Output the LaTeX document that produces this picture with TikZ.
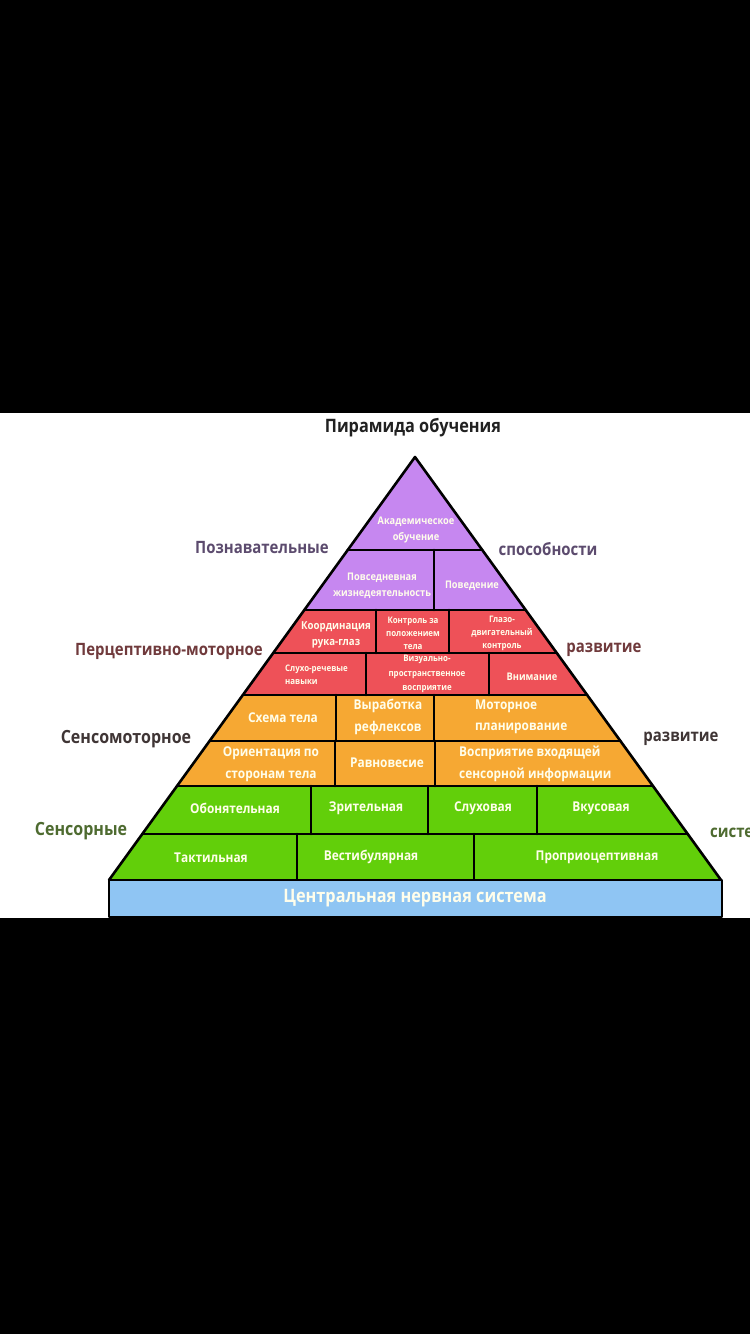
\documentclass[tikz,border=0pt]{standalone}
\usepackage{fontspec}
\newfontfamily\cf{Open Sans}[FakeStretch=0.88]
\newcommand\myfs[2]{\fontsize{#1}{#2}\selectfont}
\definecolor{pur}{HTML}{C687F0}
\definecolor{rd}{HTML}{EE5158}
\definecolor{org}{HTML}{F6A833}
\definecolor{grn}{HTML}{62CF0A}
\definecolor{blu}{HTML}{8FC5F3}
\definecolor{cogc}{HTML}{5C4B6E}
\definecolor{pmc}{HTML}{703A3C}
\definecolor{smc}{HTML}{3F3535}
\definecolor{senc}{HTML}{4E6B30}
\tikzset{
  edge/.style={line width=2.6pt, draw=black, line join=round, line cap=round},
  side/.style={inner sep=0, font={\cf\bfseries\myfs{17}{20}}},
  cell/.style={inner sep=0, align=center, text=white!92!yellow},
  small/.style={cell, font={\cf\bfseries\myfs{9}{13}}},
  mid/.style={cell, font={\cf\bfseries\myfs{10.5}{15.5}}},
  big/.style={cell, font={\cf\bfseries\myfs{13.5}{21.5}}}
}
\begin{document}
\begin{tikzpicture}[x=1pt,y=-1pt]
\useasboundingbox (0,0) rectangle (750,1334);
\clip (0,0) rectangle (750,1334);
\fill[black] (0,0) rectangle (750,1334);
\fill[white] (0,413) rectangle (750,918);
% edge points
\coordinate (A) at (415,457);
\coordinate (L550) at (347.7,550); \coordinate (R550) at (482.3,550);
\coordinate (L610) at (304.3,610); \coordinate (R610) at (525.7,610);
\coordinate (L653) at (273.2,653); \coordinate (R653) at (556.8,653);
\coordinate (L695) at (242.8,695); \coordinate (R695) at (587.2,695);
\coordinate (L741) at (209.6,741); \coordinate (R741) at (620.4,741);
\coordinate (L786) at (177.0,786); \coordinate (R786) at (653.0,786);
\coordinate (L834) at (142.3,834); \coordinate (R834) at (687.7,834);
\coordinate (L880) at (109,880); \coordinate (R880) at (721,880);
% fills
\fill[pur] (A)--(L610)--(R610)--cycle;
\fill[rd] (L610)--(R610)--(R695)--(L695)--cycle;
\fill[org] (L695)--(R695)--(R786)--(L786)--cycle;
\fill[grn] (L786)--(R786)--(R880)--(L880)--cycle;
% horizontal lines
\foreach \y in {550,610,653,695,741,786,834}{\draw[edge] (L\y)--(R\y);}
% dividers
\draw[edge] (434,550)--(434,610);
\draw[edge] (376,610)--(376,653); \draw[edge] (449,610)--(449,653);
\draw[edge] (366,653)--(366,695); \draw[edge] (489,653)--(489,695);
\draw[edge] (336,695)--(336,741); \draw[edge] (434,695)--(434,741);
\draw[edge] (335,741)--(335,786); \draw[edge] (435,741)--(435,786);
\draw[edge] (311,786)--(311,834); \draw[edge] (428,786)--(428,834); \draw[edge] (537,786)--(537,834);
\draw[edge] (297,834)--(297,880); \draw[edge] (474,834)--(474,880);
% outline
\draw[edge] (L880)--(A)--(R880);
\path[edge, fill=blu, line cap=butt] (109,880) rectangle (722,917);
% title
\node[side, font={\cf\bfseries\myfs{18.5}{22}}, text=black!87] (title) at (413,428) {Пирамида обучения};
% side labels
\node[side, text=cogc] (lcog) at (262,548) {Познавательные};
\node[side, text=cogc] (rcog) at (548,549) {способности};
\node[side, text=pmc] (lpm) at (169,651) {Перцептивно-моторное};
\node[side, text=pmc] (rpm) at (604,650) {развитие};
\node[side, font={\cf\bfseries\myfs{18.2}{20}}, text=smc] (lsm) at (126,739) {Сенсомоторное};
\node[side, text=smc] (rsm) at (681,739) {развитие};
\node[side, font={\cf\bfseries\myfs{18.2}{20}}, text=senc] (lsen) at (81,831) {Сенсорные};
\node[side, text=senc, anchor=west] (rsen) at (710,833) {системы};
% purple
\node[mid] (t1) at (416,530) {Академическое\\обучение};
\node[mid] (t2) at (382,586) {Повседневная\\жизнедеятельность};
\node[mid] (t3) at (472,586) {Поведение};
% red
\node[cell, font={\cf\bfseries\myfs{11}{16}}] (t4) at (336,635) {Координация\\рука-глаз};
\node[small] (t5) at (413,633) {Контроль за\\положением\\тела};
\node[small] (t6) at (502,633) {Глазо-\\двигательный\\контроль};
\node[small, align=left, anchor=west] (t7) at (285,675) {Слухо-речевые\\навыки};
\node[cell, font={\cf\bfseries\myfs{9}{14.5}}] (t8) at (427,674) {Визуально-\\пространственное\\восприятие};
\node[mid] (t9) at (532,677) {Внимание};
% orange
\node[big] (t10) at (283,718) {Схема тела};
\node[big] (t11) at (388,717) {Выработка\\рефлексов};
\node[big, align=left, anchor=west] (t12) at (475,717) {Моторное\\планирование};
\node[big] (t13) at (271,764) {Ориентация по\\сторонам тела};
\node[big] (t14) at (387,763) {Равновесие};
\node[big, align=left, anchor=west] (t15) at (459,764) {Восприятие входящей\\сенсорной информации};
% green
\node[big] (t16) at (235,808) {Обонятельная};
\node[big] (t17) at (366,808) {Зрительная};
\node[big] (t18) at (483,808) {Слуховая};
\node[big] (t19) at (601,808) {Вкусовая};
\node[big] (t20) at (211,858) {Тактильная};
\node[big] (t21) at (371,857) {Вестибулярная};
\node[big] (t22) at (597,857) {Проприоцептивная};
% base
\node[cell, font={\cf\bfseries\myfs{18.5}{20}}] (cns) at (415,898) {Центральная нервная система};
\end{tikzpicture}
\end{document}
